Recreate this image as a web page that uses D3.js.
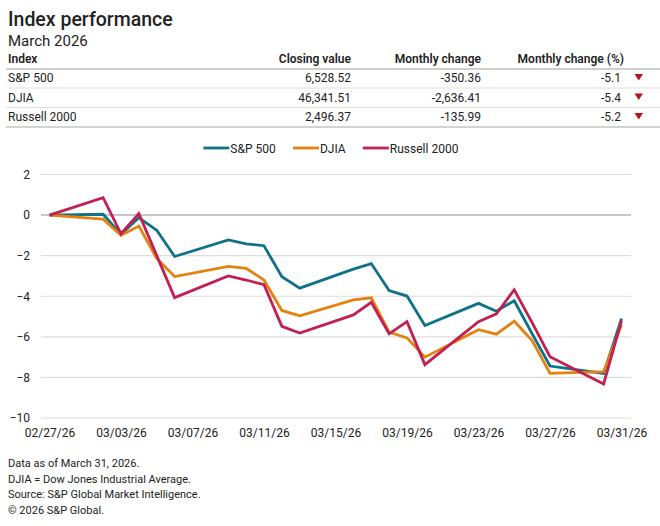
<!DOCTYPE html>
<html>
<head>
<meta charset="utf-8">
<script src="https://cdn.jsdelivr.net/npm/d3@7"></script>
<style>
  body { margin: 0; background: #fff; }
  svg { display: block; font-family: Roboto, "Noto Sans", sans-serif; }
</style>
</head>
<body>
<svg id="chart"></svg>
<script>
// trading days in the window
const dates = ['2026-02-27','2026-03-02','2026-03-03','2026-03-04','2026-03-05','2026-03-06',
  '2026-03-09','2026-03-10','2026-03-11','2026-03-12','2026-03-13',
  '2026-03-16','2026-03-17','2026-03-18','2026-03-19','2026-03-20',
  '2026-03-23','2026-03-24','2026-03-25','2026-03-26','2026-03-27',
  '2026-03-30','2026-03-31'];

// cumulative % change since 02/27
const sp500 = [0, 0.04, -0.95, -0.13, -0.75, -2.04, -1.22, -1.42, -1.51, -3.04, -3.6,
  -2.66, -2.39, -3.72, -3.99, -5.44, -4.35, -4.74, -4.22, -5.85, -7.44, -7.8, -5.1];
const djia = [0, -0.2, -1.0, -0.54, -2.14, -3.03, -2.53, -2.62, -3.2, -4.7, -4.96,
  -4.18, -4.08, -5.77, -6.05, -7.0, -5.65, -5.87, -5.23, -6.18, -7.8, -7.72, -5.4];
const russell = [0, 0.86, -0.92, 0.07, -2.0, -4.07, -3.0, -3.2, -3.43, -5.48, -5.81,
  -4.92, -4.3, -5.85, -5.25, -7.37, -5.25, -4.87, -3.68, -5.3, -6.98, -8.32, -5.2];

const seriesNames = ['S&P 500', 'DJIA', 'Russell 2000'];
const seriesColors = ['#10718a', '#e5820e', '#c21f52'];

// table
const tableHeaders = ['Index', 'Closing value', 'Monthly change', 'Monthly change (%)'];
const closingValues = ['6,528.52', '46,341.51', '2,496.37'];
const monthlyChange = ['-350.36', '-2,636.41', '-135.99'];
const monthlyPct = ['-5.1', '-5.4', '-5.2'];

const yTicks = [2, 0, -2, -4, -6, -8, -10];
const xTickDates = ['2026-02-27','2026-03-03','2026-03-07','2026-03-11','2026-03-15',
  '2026-03-19','2026-03-23','2026-03-27','2026-03-31'];

const footnotes = ['Data as of March 31, 2026.', 'DJIA = Dow Jones Industrial Average.',
  'Source: S&P Global Market Intelligence.', '\u00a9 2026 S&P Global.'];

const width = 660, height = 526;
const textColor = '#222';
const parse = d3.timeParse('%Y-%m-%d');
const fmt = d3.timeFormat('%m/%d/%y');

const svg = d3.select('#chart')
  .attr('width', width)
  .attr('height', height);

// titles
svg.append('text')
  .attr('x', 8).attr('y', 26)
  .attr('fill', textColor)
  .style('font-size', '19.5px')
  .style('font-weight', 500)
  .text('Index performance');

svg.append('text')
  .attr('x', 8).attr('y', 46)
  .attr('fill', textColor)
  .style('font-size', '15px')
  .text('March 2026');

// table
const colX = [8, 351, 481, 624];
const colAnchor = ['start', 'end', 'end', 'end'];

svg.selectAll('.th')
  .data(tableHeaders)
  .enter()
  .append('text')
  .attr('class', 'th')
  .attr('x', (d, i) => colX[i])
  .attr('y', 63)
  .attr('text-anchor', (d, i) => colAnchor[i])
  .attr('fill', textColor)
  .style('font-size', '12px')
  .style('font-weight', 600)
  .text(d => d);

svg.append('line')
  .attr('x1', 6).attr('x2', 660)
  .attr('y1', 69).attr('y2', 69)
  .attr('stroke', '#cfcfcf')
  .attr('stroke-width', 2);

const rowY = i => 82 + i * 19.5;

const rows = svg.selectAll('.row')
  .data(seriesNames)
  .enter()
  .append('g')
  .attr('class', 'row')
  .attr('transform', (d, i) => `translate(0, ${rowY(i)})`);

rows.each(function(name, i) {
  const g = d3.select(this);
  const cells = [name, closingValues[i], monthlyChange[i], monthlyPct[i]];
  g.selectAll('text')
    .data(cells)
    .enter()
    .append('text')
    .attr('x', (d, j) => colX[j] - (j === 3 ? 3 : 0))
    .attr('y', 0)
    .attr('text-anchor', (d, j) => colAnchor[j])
    .attr('fill', textColor)
    .style('font-size', '12px')
    .text(d => d);

  g.append('path')
    .attr('d', 'M634.5,-8 L643,-8 L638.75,-1.5 Z')
    .attr('fill', '#b4121e');

  g.append('line')
    .attr('x1', 6).attr('x2', 660)
    .attr('y1', 6).attr('y2', 6)
    .attr('stroke', i === seriesNames.length - 1 ? '#a8a8a8' : '#dedede')
    .attr('stroke-width', 1);
});

// chart
const x = d3.scaleTime()
  .domain([parse(dates[0]), parse(dates[dates.length - 1])])
  .range([49.5, 621.5]);

const y = d3.scaleLinear()
  .domain([-10, 2])
  .range([418, 174.5]);

const gridX1 = 41, gridX2 = 631;

svg.append('g')
  .selectAll('line')
  .data(yTicks)
  .enter()
  .append('line')
  .attr('x1', gridX1).attr('x2', gridX2)
  .attr('y1', d => y(d)).attr('y2', d => y(d))
  .attr('stroke', d => d === 0 ? '#b5b5b5' : '#dddddd')
  .attr('stroke-width', d => d === 0 ? 1.5 : 1.2);

const yAxis = d3.axisLeft(y)
  .tickValues(yTicks)
  .tickSize(0)
  .tickPadding(0)
  .tickFormat(d3.format('d'));

svg.append('g')
  .attr('transform', 'translate(30,0)')
  .call(yAxis)
  .call(g => g.select('.domain').remove())
  .call(g => g.selectAll('text')
    .attr('fill', textColor)
    .style('font-family', 'Roboto, sans-serif')
    .style('font-size', '12px'));

const xAxis = d3.axisBottom(x)
  .tickValues(xTickDates.map(parse))
  .tickSize(0)
  .tickPadding(0)
  .tickFormat(fmt);

svg.append('g')
  .attr('transform', 'translate(0,428)')
  .call(xAxis)
  .call(g => g.select('.domain').remove())
  .call(g => g.selectAll('text')
    .attr('fill', textColor)
    .style('font-family', 'Roboto, sans-serif')
    .style('font-size', '12px'));

const seriesValues = [sp500, djia, russell];

const line = d3.line()
  .x((d, i) => x(parse(dates[i])))
  .y(d => y(d));

svg.append('g')
  .selectAll('path')
  .data(seriesValues)
  .enter()
  .append('path')
  .attr('d', d => line(d))
  .attr('fill', 'none')
  .attr('stroke', (d, i) => seriesColors[i])
  .attr('stroke-width', 2.8)
  .attr('stroke-linejoin', 'miter');

// legend above the plot
const legend = svg.append('g');
const legendItems = legend.selectAll('g')
  .data(seriesNames)
  .enter()
  .append('g');

legendItems.append('line')
  .attr('x1', 0).attr('x2', 26)
  .attr('y1', 0).attr('y2', 0)
  .attr('stroke', (d, i) => seriesColors[i])
  .attr('stroke-width', 2.8);

legendItems.append('text')
  .attr('x', 27)
  .attr('y', 4.5)
  .attr('fill', textColor)
  .style('font-size', '12px')
  .text(d => d);

let offset = 0;
const gap = 17;
legendItems.each(function() {
  const w = this.getBBox().width;
  d3.select(this).attr('transform', `translate(${offset}, 0)`);
  offset += w + gap;
});
const legendWidth = offset - gap;
legend.attr('transform', `translate(${331 - legendWidth / 2}, 148)`);

// footnotes
svg.selectAll('.note')
  .data(footnotes)
  .enter()
  .append('text')
  .attr('class', 'note')
  .attr('x', 8)
  .attr('y', (d, i) => 467 + i * 15.5)
  .attr('fill', textColor)
  .style('font-size', '11px')
  .text(d => d);
</script>
</body>
</html>
